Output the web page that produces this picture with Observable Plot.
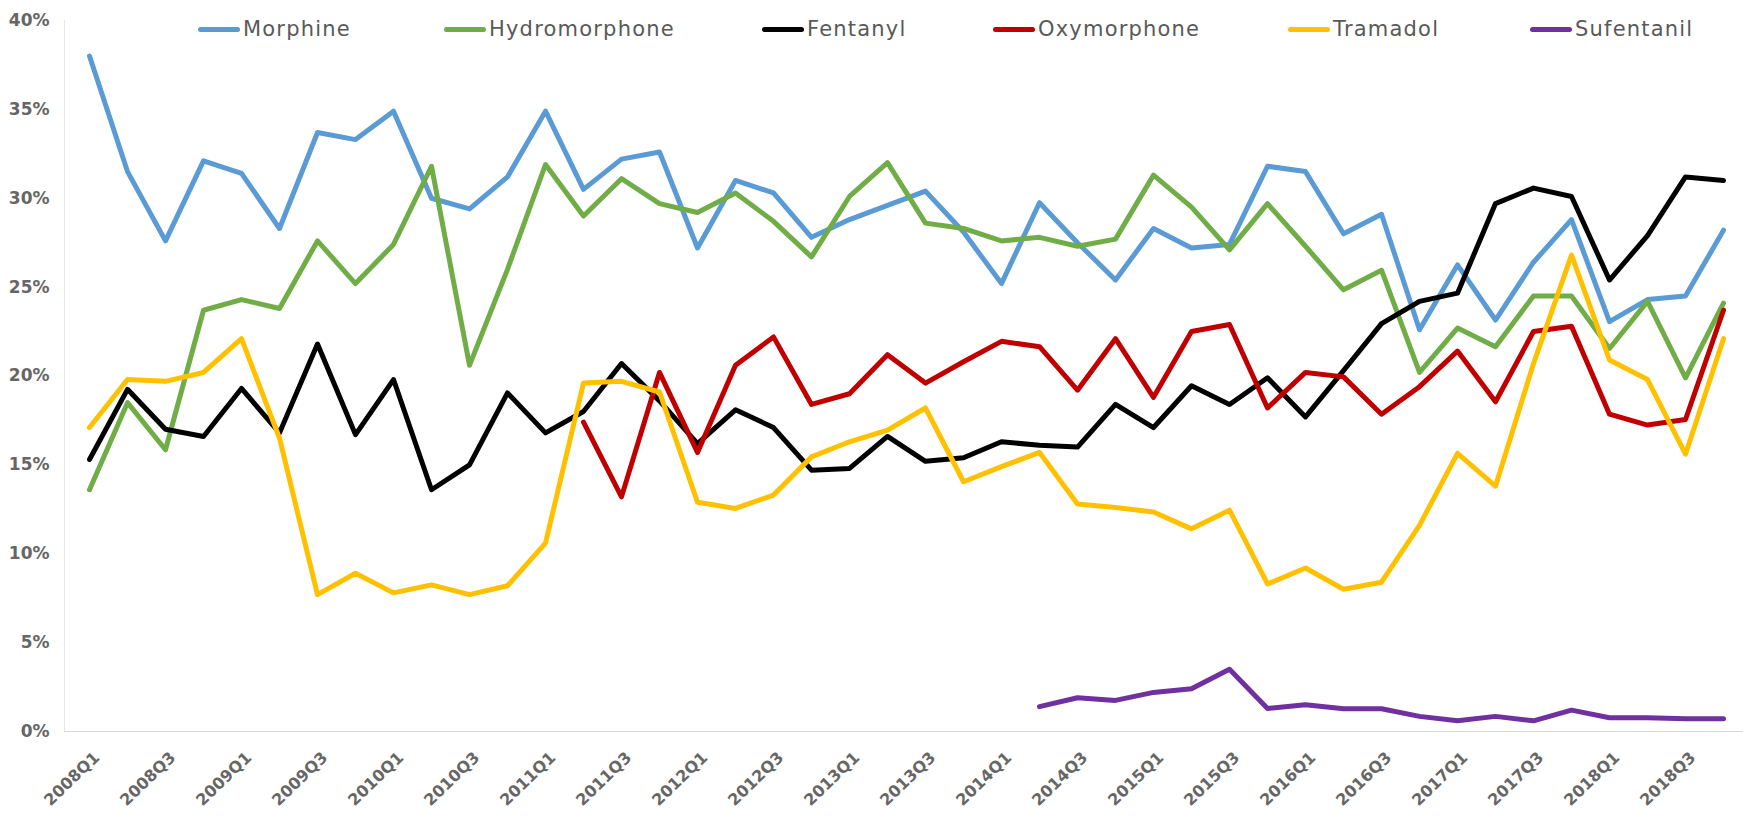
<!DOCTYPE html>
<html><head><meta charset="utf-8">
<script src="https://cdn.jsdelivr.net/npm/d3@7"></script>
<script src="https://cdn.jsdelivr.net/npm/@observablehq/plot@0.6"></script>
<style>
body{margin:0;background:#fff;}
#wrap{position:relative;width:1743px;height:820px;overflow:hidden;}
#legend{position:absolute;left:0;top:0;width:1743px;height:60px;font-family:"DejaVu Sans",sans-serif;font-size:21px;letter-spacing:1.2px;color:#595959;}
.item{position:absolute;top:16px;height:26px;display:flex;align-items:center;white-space:nowrap;}
.sw{width:42px;height:5px;border-radius:3px;margin-right:3px;}
</style></head><body>
<div id="wrap"><div id="chart"></div><div id="legend"></div></div>
<script>
const quarters = ["2008Q1","2008Q2","2008Q3","2008Q4","2009Q1","2009Q2","2009Q3","2009Q4",
"2010Q1","2010Q2","2010Q3","2010Q4","2011Q1","2011Q2","2011Q3","2011Q4",
"2012Q1","2012Q2","2012Q3","2012Q4","2013Q1","2013Q2","2013Q3","2013Q4",
"2014Q1","2014Q2","2014Q3","2014Q4","2015Q1","2015Q2","2015Q3","2015Q4",
"2016Q1","2016Q2","2016Q3","2016Q4","2017Q1","2017Q2","2017Q3","2017Q4",
"2018Q1","2018Q2","2018Q3","2018Q4"];
const xTickLabels = quarters.filter(q => q.endsWith("Q1") || q.endsWith("Q3"));
const yTicks = [0, 5, 10, 15, 20, 25, 30, 35, 40];

const drugs = ["Morphine","Hydromorphone","Fentanyl","Oxymorphone","Tramadol","Sufentanil"];
const colors = ["#5B9BD5","#70AD47","#000000","#C00000","#FFC000","#7030A0"];

const morphine = [38.0,31.5,27.6,32.1,31.4,28.3,33.7,33.3,34.9,30.0,29.4,31.2,34.9,30.5,
32.2,32.6,27.2,31.0,30.3,27.8,28.8,29.6,30.4,28.1,25.2,29.75,27.5,25.4,28.3,
27.2,27.4,31.8,31.5,28.0,29.1,22.6,26.25,23.15,26.4,28.8,23.06,24.3,24.5,28.2];
const hydromorphone = [13.6,18.5,15.85,23.7,24.3,23.8,27.6,25.2,27.4,31.8,20.6,26.0,31.9,29.0,
31.1,29.7,29.2,30.3,28.7,26.7,30.1,32.0,28.6,28.3,27.6,27.8,27.3,27.7,31.3,
29.5,27.1,29.7,27.3,24.85,25.95,20.2,22.7,21.65,24.5,24.5,21.55,24.2,19.9,24.1];
const fentanyl = [15.3,19.25,17.0,16.6,19.3,16.8,21.8,16.7,19.8,13.6,15.0,19.05,16.8,18.0,
20.7,18.6,16.2,18.1,17.1,14.7,14.8,16.6,15.2,15.4,16.3,16.1,16.0,18.4,17.1,
19.45,18.4,19.9,17.7,20.3,22.95,24.2,24.66,29.7,30.57,30.1,25.4,27.9,31.2,31.0];
const oxymorphone = [null,null,null,null,null,null,null,null,null,null,null,null,null,17.4,
13.2,20.2,15.7,20.6,22.2,18.4,19.0,21.2,19.6,20.8,21.95,21.65,19.2,22.1,18.8,
22.5,22.9,18.2,20.2,19.95,17.85,19.4,21.4,18.55,22.5,22.8,17.85,17.24,17.55,23.7];
const tramadol = [17.1,19.8,19.7,20.2,22.1,16.5,7.7,8.9,7.8,8.25,7.7,8.2,10.6,19.6,
19.7,19.1,12.9,12.55,13.3,15.45,16.3,16.95,18.2,14.05,14.9,15.7,12.8,12.6,12.35,
11.4,12.45,8.3,9.2,8.0,8.4,11.6,15.65,13.8,20.7,26.8,20.9,19.8,15.6,22.1];
const sufentanil = [null,null,null,null,null,null,null,null,null,null,null,null,null,null,
null,null,null,null,null,null,null,null,null,null,null,1.4,1.9,1.75,2.2,
2.4,3.5,1.3,1.5,1.28,1.28,0.85,0.6,0.85,0.6,1.2,0.77,0.77,0.72,0.72];

const seriesValues = [morphine, hydromorphone, fentanyl, oxymorphone, tramadol, sufentanil];
const data = [];
seriesValues.forEach((vals, s) => vals.forEach((v, i) => {
  if (v != null) data.push({quarter: quarters[i], drug: drugs[s], value: v});
}));

const chart = Plot.plot({
  width: 1743, height: 820,
  marginLeft: 64, marginRight: 0, marginTop: 20, marginBottom: 89,
  x: {type: "point", domain: quarters, range: [80, 1732], padding: 0, label: null, axis: null},
  y: {domain: [0, 40], label: null},
  color: {domain: drugs, range: colors},
  style: {fontFamily: "'DejaVu Sans', sans-serif", background: "#fff"},
  marks: [
    Plot.frame({anchor: "left", stroke: "#e6e6e6"}),
    Plot.frame({anchor: "bottom", stroke: "#d9d9d9"}),
    Plot.axisY(yTicks, {tickSize: 0, tickPadding: 15, tickFormat: d => d + "%", fontSize: 17,
      fontWeight: "bold", color: "#666666", label: null, style: {letterSpacing: "2.5px"}}),
    Plot.text(xTickLabels, {x: d => d, frameAnchor: "bottom", text: d => d, rotate: -44,
      textAnchor: "end", lineAnchor: "top", dx: 3, dy: 19, fontSize: 16,
      fontWeight: "bold", fill: "#666666"}),
    Plot.lineY(data, {x: "quarter", y: "value", z: "drug", stroke: "drug", strokeWidth: 5,
      strokeLinejoin: "round", strokeLinecap: "round"})
  ]
});
document.getElementById("chart").appendChild(chart);

const legendLeft = [198, 444, 762, 993, 1288, 1530];
const legend = document.getElementById("legend");
drugs.forEach((d, i) => {
  const it = document.createElement("div");
  it.className = "item";
  it.style.left = legendLeft[i] + "px";
  const sw = document.createElement("div");
  sw.className = "sw";
  sw.style.background = colors[i];
  const tx = document.createElement("span");
  tx.textContent = d;
  it.appendChild(sw); it.appendChild(tx);
  legend.appendChild(it);
});
</script>
</body></html>
